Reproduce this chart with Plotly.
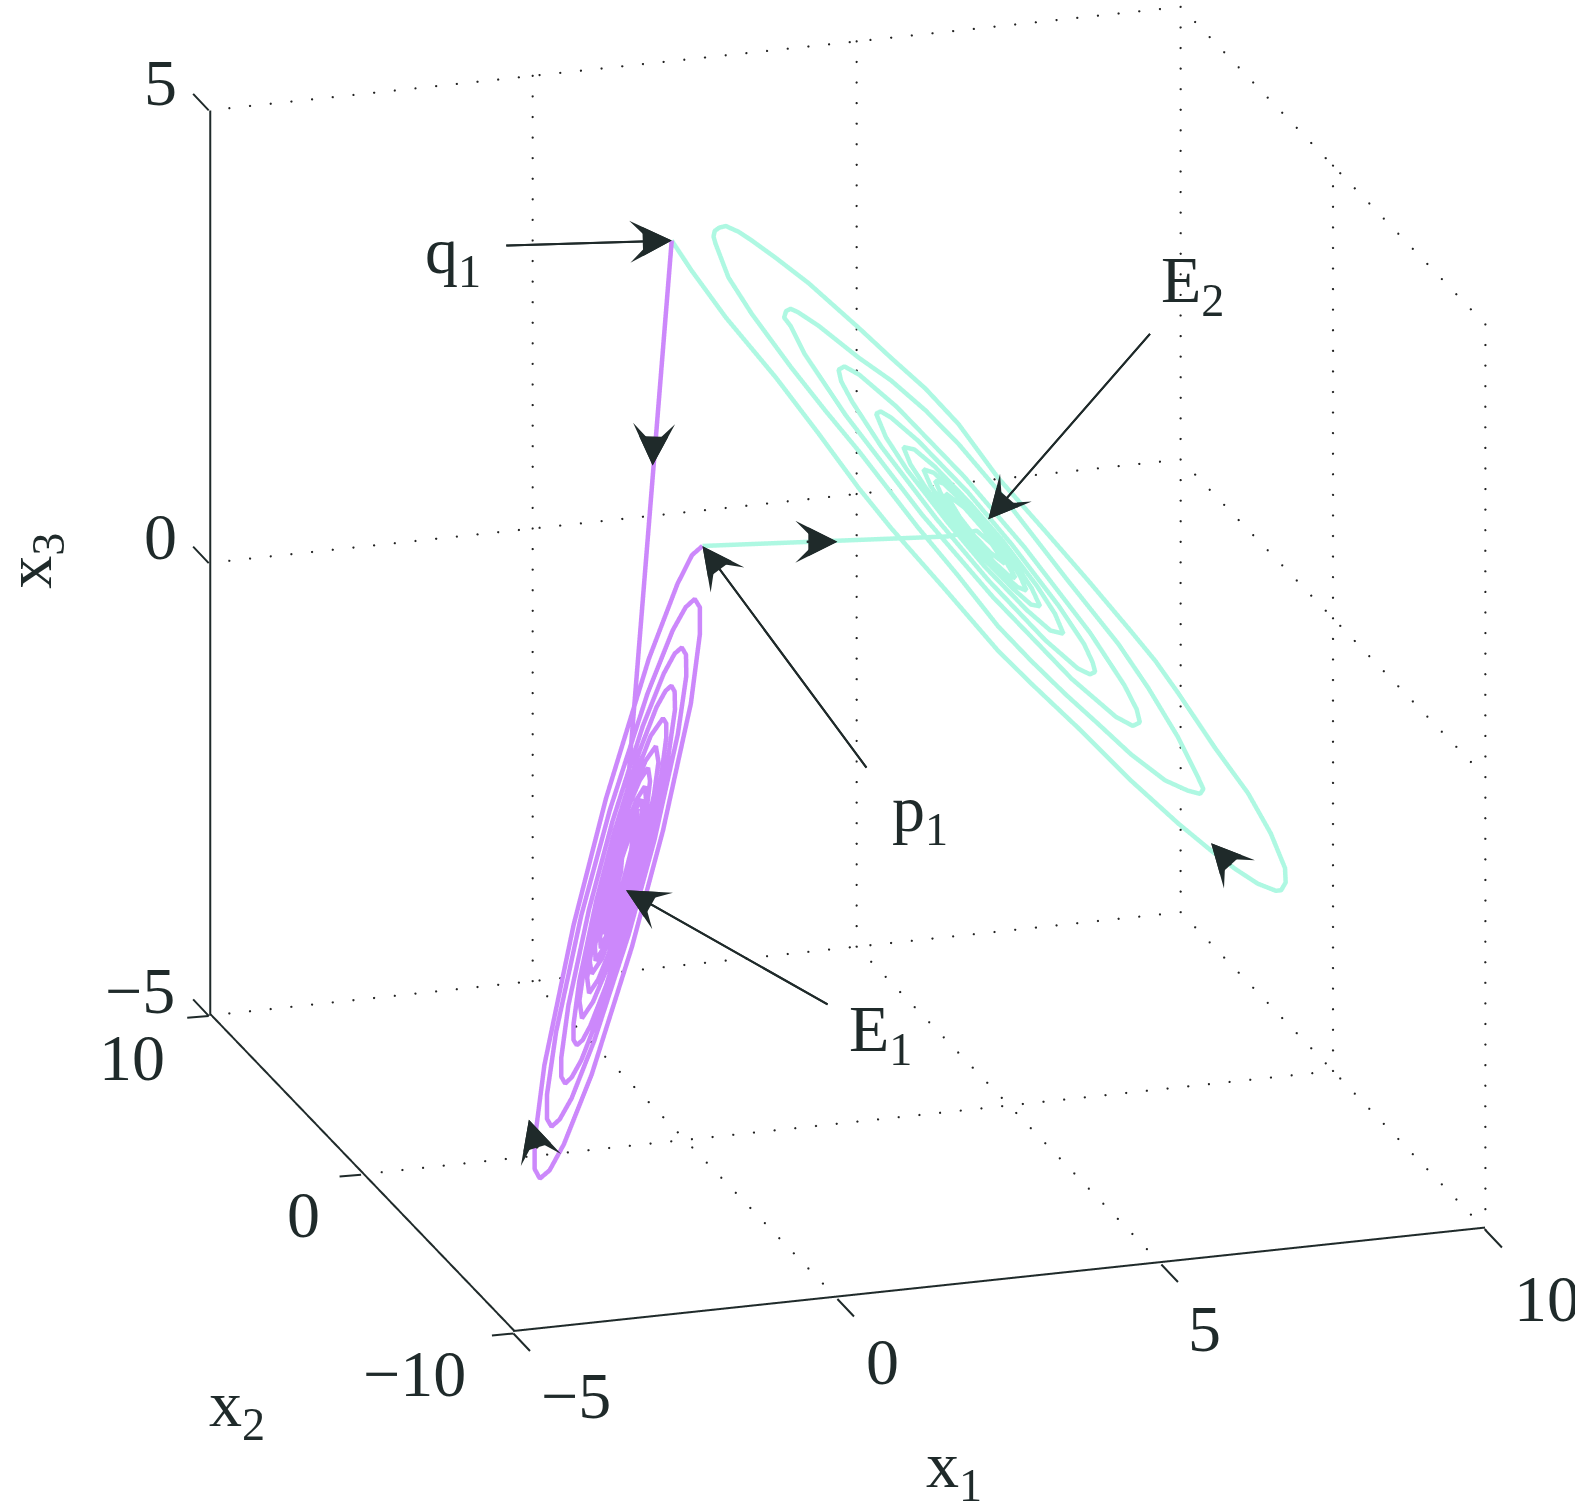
import numpy as np
import plotly.graph_objects as go

INK = "#1f2a2a"
PURPLE = "#cc88fb"
CYAN = "#aef8e2"
SERIF = "Liberation Serif"

x1_ticks = [-5, 0, 5, 10]
x2_ticks = [-10, 0, 10]
x3_ticks = [-5, 0, 5]
x1_labels = ["\u22125", "0", "5", "10"]
x2_labels = ["\u221210", "0", "10"]
x3_labels = ["\u22125", "0", "5"]

Q1 = (-0.205, 0.0, 4.95)
P1 = (0.27, 0.0, 1.54)
E1 = (-0.91, 0.0, -2.17)
E2 = (4.68, 0.0, 1.50)

purple_x1 = [Q1[0], -1.46, -1.67, -1.52, -1.25, -1.30, -1.41, -1.54, -1.71, -1.66, -1.54, -1.40, -1.20,
             -1.26, -1.39, -1.54, -1.77, -1.78, -1.71, -1.57, -1.40, -1.25, -1.14,
             -1.13, -1.21, -1.37, -1.57, -1.73, -1.85, -1.86, -1.78, -1.61, -1.40, -1.22, -1.09,
             -1.07, -1.16, -1.35, -1.57, -1.76, -1.91, -1.94, -1.88, -1.73, -1.55, -1.33, -1.17, -1.04,
             -1.01, -1.06, -1.22, -1.41, -1.64, -1.81, -1.95, -1.98, -1.92, -1.73, -1.53, -1.26, -1.08, -0.92,
             -0.88, -0.95, -1.16, -1.39, -1.68, -1.89, -2.06, -2.10, -2.02, -1.80, -1.55, -1.22, -1.00, -0.81,
             -0.76, -0.76, -0.84, -1.08, -1.34, -1.69, -1.93, -2.05, -2.14,
             -2.19, -2.19, -2.10, -1.84, -1.55, -1.17, -0.91, -0.77, -0.68,
             -0.63, -0.625, -0.73, -1.02, -1.35, -1.78, -2.07, -2.22, -2.32,
             -2.38, -2.38, -2.27, -1.95, -1.59, -1.12, -0.80, -0.63, -0.52,
             -0.455, -0.45, -0.58, -0.94, -1.34, -1.87, -2.22, -2.405, -2.53,
             -2.60, -2.60, -2.46, -2.07, -1.63, -1.05, -0.66, -0.46, -0.32,
             -0.24, -0.24, -0.38, -0.81, -1.29, -1.91, -2.34, -2.56, -2.71,
             -2.79, -2.79, -2.64, -2.19, -1.69, -1.03, -0.585, -0.36, P1[0]]
purple_x3 = [Q1[2], -1.58, -2.13, -1.58, -1.04, -1.35, -1.65, -1.95, -2.25, -1.90, -1.57, -1.23, -0.90,
             -1.28, -1.66, -2.03, -2.40, -2.27, -1.99, -1.59, -1.19, -0.92, -0.80,
             -0.94, -1.24, -1.68, -2.11, -2.40, -2.53, -2.37, -2.05, -1.58, -1.12, -0.80, -0.66,
             -0.83, -1.17, -1.68, -2.18, -2.52, -2.67, -2.53, -2.26, -1.77, -1.33, -0.85, -0.59, -0.46,
             -0.61, -0.91, -1.44, -1.93, -2.45, -2.74, -2.88, -2.71, -2.39, -1.80, -1.27, -0.70, -0.38, -0.23,
             -0.41, -0.77, -1.42, -2.00, -2.64, -2.98, -3.15, -2.95, -2.56, -1.84, -1.20, -0.50, -0.11, 0.07,
             0.01, -0.15, -0.58, -1.35, -2.05, -2.82, -3.24, -3.39, -3.44,
             -3.38, -3.20, -2.73, -1.87, -1.10, -0.26, 0.20, 0.37, 0.42,
             0.35, 0.15, -0.37, -1.31, -2.17, -3.10, -3.61, -3.79, -3.85,
             -3.77, -3.56, -2.99, -1.95, -1.01, 0.01, 0.56, 0.77, 0.83,
             0.745, 0.51, -0.12, -1.26, -2.28, -3.41, -4.02, -4.24, -4.31,
             -4.22, -3.95, -3.27, -2.01, -0.88, 0.36, 1.03, 1.27, 1.35,
             1.25, 0.96, 0.20, -1.17, -2.42, -3.78, -4.52, -4.79, -4.87,
             -4.76, -4.44, -3.62, -2.11, -0.75, 0.74, 1.54, 1.84, P1[2]]
purple_x2 = [0.0] + [-2.0] * (len(purple_x1) - 2) + [0.0]

cyan_x1 = [P1[0], 4.53, 4.97, 5.20, 5.41, 5.17, 4.93, 4.71, 4.49, 4.78, 5.05, 5.32, 5.57,
           5.46, 5.24, 4.93, 4.62, 4.42, 4.33, 4.46, 4.71, 5.06, 5.41, 5.64, 5.74,
           5.60, 5.32, 4.92, 4.52, 4.26, 4.15, 4.31, 4.63, 5.08, 5.53, 5.82, 5.95,
           5.81, 5.54, 5.07, 4.65, 4.19, 3.95, 3.84, 4.01, 4.32, 4.87, 5.37, 5.90, 6.18, 6.31,
           6.11, 5.75, 5.10, 4.53, 3.90, 3.57, 3.42, 3.49, 3.65, 4.07, 4.83, 5.51, 6.24, 6.63, 6.76, 6.80,
           6.72, 6.53, 6.03, 5.15, 4.36, 3.50, 3.05, 2.88, 2.84, 2.93, 3.16, 3.74, 4.78, 5.71, 6.72, 7.25, 7.44, 7.49,
           7.38, 7.12, 6.44, 5.22, 4.13, 2.95, 2.32, 2.10, 2.00, 2.03, 2.10,
           2.22, 2.53, 3.15, 3.65, 4.18, 4.69, 5.30, 5.84, 6.38, 7.16, 7.62, 8.08, 8.39, 8.47, 8.42,
           8.23, 7.88, 7.35, 6.85, 6.34, 5.81, 5.30, 4.69, 4.07, 3.15, 2.64, 2.11, 1.50, 1.14, 0.94, 0.91, 0.93, 1.00,
           1.10, 1.30, 1.50, 1.87, 2.38, 2.73, 3.15, 3.65, 4.18, 4.69, 5.30, 6.00, 6.69, 7.35, 7.73, 8.08, 8.65, 9.16, 9.51, 9.73, 9.74, 9.67,
           9.59, 9.31, 8.96, 8.59, 8.08, 7.35, 6.58, 5.81, 5.30, 4.46, 3.65, 3.15, 2.53, 1.87, 1.10, 0.57, Q1[0]]
cyan_x3 = [P1[2], 0.97, 1.00, 0.84, 0.60, 0.75, 0.95, 1.17, 1.45, 1.27, 1.03, 0.76, 0.43,
           0.47, 0.63, 0.91, 1.22, 1.45, 1.60, 1.56, 1.37, 1.06, 0.71, 0.45, 0.28,
           0.33, 0.53, 0.88, 1.26, 1.55, 1.74, 1.69, 1.45, 1.06, 0.63, 0.30, 0.09,
           0.12, 0.31, 0.69, 1.08, 1.53, 1.81, 2.01, 1.97, 1.76, 1.31, 0.86, 0.32, -0.01, -0.24,
           -0.19, 0.06, 0.59, 1.12, 1.75, 2.14, 2.41, 2.43, 2.35, 2.06, 1.44, 0.81, 0.07, -0.38, -0.59, -0.70,
           -0.72, -0.64, -0.29, 0.44, 1.17, 2.04, 2.57, 2.81, 2.94, 2.97, 2.86, 2.46, 1.61, 0.76, -0.26, -0.88, -1.16, -1.31,
           -1.34, -1.22, -0.75, 0.25, 1.24, 2.43, 3.15, 3.48, 3.58, 3.65, 3.67,
           3.62, 3.45, 3.05, 2.76, 2.39, 1.98, 1.42, 0.88, 0.34, -0.42, -0.94, -1.52, -1.99, -2.12, -2.17,
           -2.12, -1.98, -1.65, -1.28, -0.91, -0.50, -0.08, 0.52, 1.10, 2.02, 2.50, 3.02, 3.66, 4.09, 4.48, 4.56, 4.62, 4.65,
           4.66, 4.58, 4.47, 4.25, 3.93, 3.68, 3.38, 3.01, 2.63, 2.20, 1.56, 0.94, 0.32, -0.29, -0.65, -1.03, -1.68, -2.22, -2.69, -3.09, -3.25, -3.33,
           -3.33, -3.23, -3.04, -2.81, -2.47, -1.94, -1.33, -0.75, -0.35, 0.41, 1.13, 1.61, 2.26, 2.93, 3.65, 4.21, Q1[2]]
cyan_x2 = [0.0] + [2.0] * (len(cyan_x1) - 2) + [0.0]

xmin, xmax = x1_ticks[0], x1_ticks[-1]
ymin, ymax = x2_ticks[0], x2_ticks[-1]
zmin, zmax = x3_ticks[0], x3_ticks[-1]

ASPECT = dict(x=1.523, y=1.494, z=1.433)
EYE_DIR = np.array([-0.287, -0.898, 0.333])
EYE_R = 2.0
DOT_STEP_PX = 20.4
PX_PER = dict(x=973 / 15, y=437 / 20, z=905 / 10)
EDGE_INSET = 0.02


def dotted(a, b, gx, gy, gz):
    a, b = np.array(a, float), np.array(b, float)
    scale = np.array([PX_PER["x"], PX_PER["y"], PX_PER["z"]])
    n = int(np.linalg.norm((b - a) * scale) / DOT_STEP_PX)
    for t in np.linspace(0, 1, n + 1)[1:]:
        p = a + (b - a) * t
        gx.append(p[0]); gy.append(p[1]); gz.append(p[2])


gx, gy, gz = [], [], []
for z in x3_ticks:
    dotted((xmin, ymax, z), (xmax, ymax, z), gx, gy, gz)
    dotted((xmax, ymax, z), (xmax, ymin, z), gx, gy, gz)
for x in x1_ticks[1:]:
    dotted((x, ymax, zmin), (x, ymax, zmax), gx, gy, gz)
    if x != xmax:
        dotted((x, ymin, zmin), (x, ymax, zmin), gx, gy, gz)
for y in x2_ticks[:-1]:
    dotted((xmax, y, zmin), (xmax, y, zmax), gx, gy, gz)
    if y != ymin:
        dotted((xmin, y, zmin), (xmax, y, zmin), gx, gy, gz)

fig = go.Figure()
fig.add_trace(go.Scatter3d(x=gx, y=gy, z=gz, mode="markers",
                           marker=dict(size=1.3, color="#222222", line=dict(width=0)),
                           hoverinfo="skip", showlegend=False))

ax_x, ax_y, ax_z = [], [], []


def seg(a, b):
    ax_x.extend([a[0], b[0], None]); ax_y.extend([a[1], b[1], None]); ax_z.extend([a[2], b[2], None])


e = EDGE_INSET
seg((xmin + e, ymax - e, zmin), (xmin + e, ymax - e, zmax))
seg((xmin + e, ymin, zmin + e), (xmin + e, ymax, zmin + e))
seg((xmin, ymin + e, zmin + e), (xmax, ymin + e, zmin + e))

fig.add_trace(go.Scatter3d(x=ax_x, y=ax_y, z=ax_z, mode="lines",
                           line=dict(color=INK, width=4), hoverinfo="skip", showlegend=False))

fig.add_trace(go.Scatter3d(x=purple_x1, y=purple_x2, z=purple_x3, mode="lines",
                           line=dict(color=PURPLE, width=9), hoverinfo="skip", showlegend=False))
fig.add_trace(go.Scatter3d(x=cyan_x1, y=cyan_x2, z=cyan_x3, mode="lines",
                           line=dict(color=CYAN, width=9), hoverinfo="skip", showlegend=False))

ann = []
SUB = '<sub style="font-size:85%">{}</sub>'


def label(text, p, dx, dy, size=66, angle=0):
    ann.append(dict(x=p[0], y=p[1], z=p[2], text=text, showarrow=False,
                    xshift=dx, yshift=-dy, textangle=angle,
                    xanchor="center", yanchor="middle",
                    font=dict(family=SERIF, size=size, color=INK)))


def arrow(p, ax, ay, width=2):
    for size in (3.5, 2.9):
        ann.append(dict(x=p[0], y=p[1], z=p[2], text="", showarrow=True,
                        ax=ax, ay=ay, arrowhead=3 if size == 3.5 else 2,
                        arrowsize=size, arrowwidth=width, arrowcolor=INK))


def tick(p, ax, ay):
    ann.append(dict(x=p[0], y=p[1], z=p[2], text="", showarrow=True, ax=ax, ay=ay,
                    arrowhead=0, arrowwidth=2, arrowcolor=INK, standoff=0))


for v, t, s in zip(x3_ticks, x3_labels, [(-69, -25), (-48, -27), (-48, -28)]):
    label(t, (xmin, ymax, v), *s)
    tick((xmin, ymax, v), -17, -18)
for v, t, s in zip(x2_ticks, x2_labels, [(-99, 40), (-58, 40), (-77, 42)]):
    label(t, (xmin, v, zmin), *s)
    tick((xmin, v, zmin), -23, 2)
for v, t, s in zip(x1_ticks, x1_labels, [(63, 62), (45, 62), (43, 64), (62, 68)]):
    label(t, (v, ymin, zmin), *s)
    tick((v, ymin, zmin), 18, 19)
label("x" + SUB.format("1"), (2.5, ymin, zmin), -45, 188)
label("x" + SUB.format("2"), (xmin, ymin, zmin), -276, 75)
label("x" + SUB.format("3"), (xmin, ymax, 0), -176, -2, angle=-90)
label("q" + SUB.format("1"), Q1, -219, 15)
label("E" + SUB.format("2"), E2, 204, -235)
label("p" + SUB.format("1"), P1, 217, 267)
label("E" + SUB.format("1"), E1, 254, 143)

arrow(Q1, -167, 5)
arrow(P1, 165, 223)
arrow(E2, 163, -187)
arrow(E1, 203, 115)
arrow((-0.50, 0, 2.49), 1, -30)
arrow((2.35, 0, 1.43), -32, 0)
arrow((8.12, 0, -2.34), 21, 23)
arrow((-2.41, 0, -4.59), 9, 30)

hidden = dict(visible=False, showgrid=False, zeroline=False, showspikes=False,
              showbackground=False, showticklabels=False, title="")
eye = EYE_DIR * EYE_R
fig.update_layout(
    width=1575, height=1501, margin=dict(l=0, r=0, t=0, b=0),
    paper_bgcolor="white", showlegend=False,
    scene=dict(
        domain=dict(x=[0.0756, 1], y=[0.107, 1]),
        xaxis=dict(range=[xmin, xmax], **hidden),
        yaxis=dict(range=[ymin, ymax], **hidden),
        zaxis=dict(range=[zmin, zmax], **hidden),
        aspectmode="manual", aspectratio=ASPECT,
        camera=dict(eye=dict(x=eye[0], y=eye[1], z=eye[2]), up=dict(x=0, y=0, z=1),
                    center=dict(x=0, y=0, z=0), projection=dict(type="orthographic")),
        annotations=ann,
    ),
)
fig.write_html("out.html", config={"displayModeBar": False},
               post_script="document.body.style.margin='0';")
